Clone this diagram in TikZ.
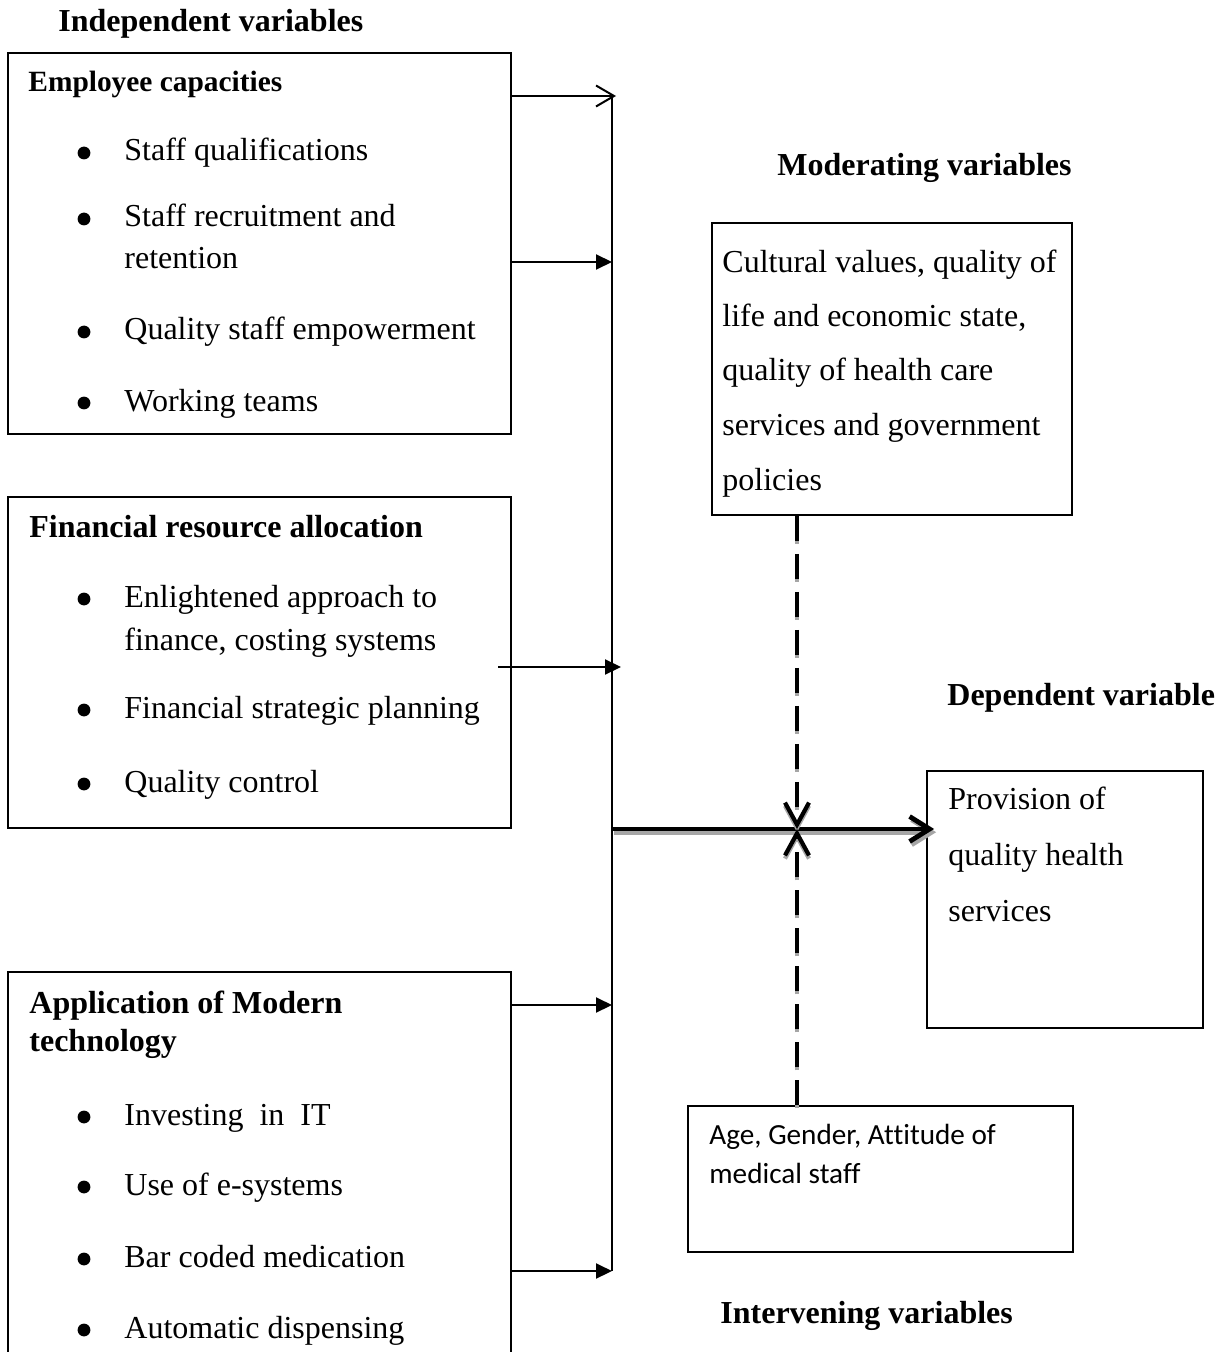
\documentclass[tikz,border=0pt]{standalone}
\usepackage{fontspec}
\setmainfont[Ligatures=NoCommon]{Liberation Serif}
\newfontfamily\calibfont[Ligatures=NoCommon]{Carlito}
\usetikzlibrary{arrows.meta,fit}
\begin{document}
\begin{tikzpicture}[x=0.5pt,y=-0.5pt,
  box/.style={draw, line width=0.9pt, inner sep=0pt},
  txt/.style={anchor=base west, inner sep=0pt, font=\fontsize{16}{19}\selectfont},
  hd/.style={anchor=base west, inner sep=0pt, font=\fontsize{16}{19}\selectfont\bfseries},
  subhd/.style={anchor=base west, inner sep=0pt, font=\fontsize{14.7}{18}\selectfont\bfseries},
  sanstxt/.style={anchor=base west, inner sep=0pt, font=\fontsize{14.6}{18}\selectfont\calibfont},
  bul/.style={circle, fill, inner sep=0pt, minimum size=6.4pt},
  thin/.style={line width=1pt},
  filltip/.style={thin, -{Triangle[length=8pt,width=7.5pt]}},
  opentip/.style={thin, -{Straight Barb[length=9pt,width=10.5pt,line width=1pt]}},
  bigarrow/.style={line width=2.4pt, -{Straight Barb[length=10pt,width=12.5pt,line width=2.4pt]}},
  modarrow/.style={line width=2.1pt, dash pattern=on 12.5pt off 6.5pt, -{Straight Barb[length=11pt,width=12pt,line width=2.1pt]}},
  shadowc/.style={draw=black!35, transform canvas={xshift=1pt,yshift=-1.6pt}},
  shadowv/.style={draw=black!35, transform canvas={yshift=-1.6pt}}
]
\clip (0,0) rectangle (1227,1352);
\fill[white] (0,0) rectangle (1227,1352);

% ---------- headings ----------
\node[hd] (hind) at (58,32) {Independent variables};
\node[hd] (hmod) at (777,176) {Moderating variables};
\node[hd] (hdep) at (947,705) {Dependent variable};
\node[hd] (hint) at (720,1323) {Intervening variables};

% ---------- box 1 ----------
\node[box, fit={(8,53) (511,434)}] (b1) {};
\node[subhd] (b1t) at (28,92) {Employee capacities};
\node[bul] (b1u1) at (84,153) {};
\node[txt] (b1a) at (124,161) {Staff qualifications};
\node[bul] (b1u2) at (84,219) {};
\node[txt] (b1b) at (124,227) {Staff recruitment and};
\node[txt] (b1c) at (124,269) {retention};
\node[bul] (b1u3) at (84,332) {};
\node[txt] (b1d) at (124,340) {Quality staff empowerment};
\node[bul] (b1u4) at (84,403) {};
\node[txt] (b1e) at (124,411) {Working teams};

% ---------- box 2 ----------
\node[box, fit={(8,497) (511,828)}] (b2) {};
\node[hd] (b2t) at (29,537) {Financial resource allocation};
\node[bul] (b2u1) at (84,599) {};
\node[txt] (b2a) at (124,607) {Enlightened approach to};
\node[txt] (b2b) at (124,650) {finance, costing systems};
\node[bul] (b2u2) at (84,710) {};
\node[txt] (b2c) at (124,718) {Financial strategic planning};
\node[bul] (b2u3) at (84,784) {};
\node[txt] (b2d) at (124,792) {Quality control};

% ---------- box 3 ----------
\node[box, fit={(8,972) (511,1400)}] (b3) {};
\node[hd] (b3t) at (29,1013) {Application of Modern};
\node[hd] (b3t2) at (29,1051) {technology};
\node[bul] (b3u1) at (84,1117) {};
\node[txt] (b3a) at (124,1125) {Investing\ \ in\ \ IT};
\node[bul] (b3u2) at (84,1187) {};
\node[txt] (b3b) at (124,1195) {Use of e-systems};
\node[bul] (b3u3) at (84,1259) {};
\node[txt] (b3c) at (124,1267) {Bar coded medication};
\node[bul] (b3u4) at (84,1330) {};
\node[txt] (b3d) at (124,1338) {Automatic dispensing};

% ---------- moderating box ----------
\node[box, fit={(712,223) (1072,515)}] (mod) {};
\node[txt] (m1) at (722,273) {Cultural values, quality of};
\node[txt] (m2) at (722,327) {life and economic state,};
\node[txt] (m3) at (722,381) {quality of health care};
\node[txt] (m4) at (722,435) {services and government};
\begin{scope}
  \clip (712,223) rectangle (1072,497);
  \node[txt] (m5) at (722,490) {policies};
\end{scope}

% ---------- dependent box ----------
\node[box, fit={(927,771) (1203,1028)}] (dep) {};
\node[txt] (d1) at (948,809) {Provision of};
\node[txt] (d2) at (948,865) {quality health};
\node[txt] (d3) at (948,921) {services};

% ---------- intervening box ----------
\node[box, fit={(688,1106) (1073,1252)}] (int) {};
\node[sanstxt] (i1) at (709,1144) {Age, Gender, Attitude of};
\node[sanstxt] (i2) at (709,1183) {medical staff};

% ---------- bus and inputs ----------
\coordinate (busTop) at (612,96);
\coordinate (bus2) at (612,262);
\coordinate (bus3) at (621,667);
\coordinate (f0) at (498,667);
\coordinate (busMid) at (612,829);
\coordinate (bus4) at (612,1005);
\coordinate (busBot) at (612,1271);
\coordinate (X) at (797,829);

\draw[thin] (busTop) -- (busBot);
\draw[opentip] (b1.east |- busTop) -- ([xshift=2pt]busTop);
\draw[filltip] (b1.east |- bus2) -- (bus2);
\draw[filltip] (f0) -- (bus3);
\draw[filltip] (b3.east |- bus4) -- (bus4);
\draw[filltip] (b3.east |- busBot) -- (busBot);

% ---------- main arrow with shadow ----------
\draw[bigarrow, shadowc, shorten >=-4pt] (busMid) -- (dep.west |- busMid);
\draw[bigarrow, shorten >=-4pt] (busMid) -- (dep.west |- busMid);

% ---------- moderating / intervening dashed arrows ----------
\draw[modarrow, shadowv] (mod.south -| X) -- (X);
\draw[modarrow, shadowv] (int.north -| X) -- (X);
\draw[modarrow] (mod.south -| X) -- (X);
\draw[modarrow] (int.north -| X) -- (X);
\end{tikzpicture}
\end{document}
